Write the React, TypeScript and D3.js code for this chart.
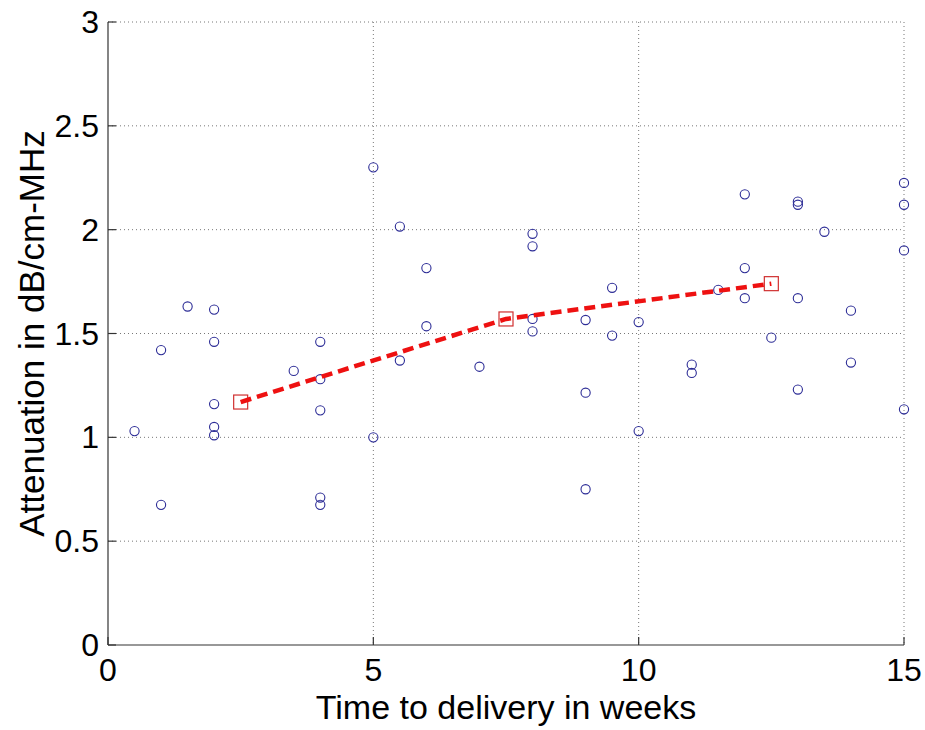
import { useRef, useEffect } from 'react';
import * as d3 from 'd3';

// scatter: weeks to delivery vs attenuation (one entry per measurement)
const weeks = [
  0.5, 1, 1, 1.5, 2, 2, 2, 2, 2, 3.5, 4, 4, 4, 4, 4, 5, 5, 5.5, 5.5, 6, 6, 7,
  8, 8, 8, 8, 9, 9, 9, 9.5, 9.5, 10, 10, 11, 11, 11.5, 12, 12, 12, 12.5,
  13, 13, 13, 13, 13.5, 14, 14, 15, 15, 15, 15,
];
const attenuation = [
  1.03, 1.42, 0.675, 1.63, 1.615, 1.46, 1.16, 1.05, 1.01, 1.32, 1.46, 1.28, 1.13, 0.71, 0.675,
  2.3, 1.0, 2.015, 1.37, 1.815, 1.535, 1.34,
  1.98, 1.92, 1.57, 1.51, 1.565, 1.215, 0.75, 1.72, 1.49, 1.555, 1.03, 1.35, 1.31, 1.71,
  2.17, 1.815, 1.67, 1.48, 2.135, 2.12, 1.67, 1.23, 1.99, 1.61, 1.36, 2.225, 2.12, 1.9, 1.135,
];

// binned means (red squares + dashed line)
const binCenters = [2.5, 7.5, 12.5];
const binMeans = [1.17, 1.57, 1.74];

const xTicks = [0, 5, 10, 15];
const yTicks = [0, 0.5, 1, 1.5, 2, 2.5, 3];

const App = () => {
  const svgRef = useRef<SVGSVGElement>(null);

  useEffect(() => {
    const width = 925;
    const height = 730;
    const left = 108, right = 904, top = 22, bottom = 645;
    const font = '"Liberation Sans", Arial, Helvetica, sans-serif';

    const svg = d3.select(svgRef.current);
    svg.selectAll('*').remove();

    svg.append('rect').attr('width', width).attr('height', height).attr('fill', '#fff');

    const x = d3.scaleLinear().domain([0, 15]).range([left, right]);
    const y = d3.scaleLinear().domain([0, 3]).range([bottom, top]);

    // dotted grid
    const grid = svg.append('g')
      .attr('stroke', '#777')
      .attr('stroke-width', 1)
      .attr('stroke-dasharray', '1,3');
    grid.selectAll('line.gx')
      .data(xTicks.filter(d => d > 0))
      .enter()
      .append('line')
      .attr('x1', d => x(d)).attr('x2', d => x(d))
      .attr('y1', top).attr('y2', bottom);
    grid.selectAll('line.gy')
      .data(yTicks.filter(d => d > 0))
      .enter()
      .append('line')
      .attr('x1', left).attr('x2', right)
      .attr('y1', d => y(d)).attr('y2', d => y(d));

    // axes (left + bottom only)
    const axis = svg.append('g').attr('stroke', '#333').attr('stroke-width', 1.2);
    axis.append('line').attr('x1', left).attr('x2', left).attr('y1', top).attr('y2', bottom);
    axis.append('line').attr('x1', left).attr('x2', right).attr('y1', bottom).attr('y2', bottom);
    axis.selectAll('line.ty')
      .data(yTicks)
      .enter()
      .append('line')
      .attr('x1', left).attr('x2', left + 8)
      .attr('y1', d => y(d)).attr('y2', d => y(d));
    axis.selectAll('line.tx')
      .data(xTicks)
      .enter()
      .append('line')
      .attr('x1', d => x(d)).attr('x2', d => x(d))
      .attr('y1', bottom).attr('y2', bottom - 8);

    // tick labels
    svg.selectAll('text.xt')
      .data(xTicks)
      .enter()
      .append('text')
      .attr('class', 'xt')
      .text(d => d)
      .attr('x', d => x(d))
      .attr('y', 681)
      .attr('text-anchor', 'middle')
      .attr('font-family', font)
      .attr('font-size', 32)
      .attr('fill', '#000');
    svg.selectAll('text.yt')
      .data(yTicks)
      .enter()
      .append('text')
      .attr('class', 'yt')
      .text(d => d)
      .attr('x', left - 9)
      .attr('y', d => y(d) + 11)
      .attr('text-anchor', 'end')
      .attr('font-family', font)
      .attr('font-size', 32)
      .attr('fill', '#000');

    // axis labels
    svg.append('text')
      .text('Time to delivery in weeks')
      .attr('x', (left + right) / 2)
      .attr('y', 719)
      .attr('text-anchor', 'middle')
      .attr('font-family', font)
      .attr('font-size', 34)
      .attr('fill', '#000');
    svg.append('text')
      .text('Attenuation in dB/cm-MHz')
      .attr('transform', `translate(44, ${(top + bottom) / 2}) rotate(-90)`)
      .attr('text-anchor', 'middle')
      .attr('font-family', font)
      .attr('font-size', 35)
      .attr('fill', '#000');

    // data circles
    svg.append('g')
      .selectAll('circle')
      .data(weeks.map((w, i) => [w, attenuation[i]]))
      .enter()
      .append('circle')
      .attr('cx', d => x(d[0]))
      .attr('cy', d => y(d[1]))
      .attr('r', 4.6)
      .attr('fill', 'none')
      .attr('stroke', '#2c2c96')
      .attr('stroke-width', 1.1);

    // binned means
    const means = binCenters.map((c, i) => [c, binMeans[i]]);
    svg.append('g')
      .selectAll('rect')
      .data(means)
      .enter()
      .append('rect')
      .attr('x', d => x(d[0]) - 7)
      .attr('y', d => y(d[1]) - 7)
      .attr('width', 14)
      .attr('height', 14)
      .attr('fill', 'none')
      .attr('stroke', '#d03030')
      .attr('stroke-width', 1.2);

    const line = d3.line<number[]>().x(d => x(d[0])).y(d => y(d[1]));
    svg.append('path')
      .attr('d', line(means))
      .attr('fill', 'none')
      .attr('stroke', '#ee1111')
      .attr('stroke-width', 4.5)
      .attr('stroke-dasharray', '11,6');
  }, []);

  return (
    <svg ref={svgRef} width={925} height={730}
      style={{ position: 'absolute', left: 0, top: 0, display: 'block' }} />
  );
};

export default App;
